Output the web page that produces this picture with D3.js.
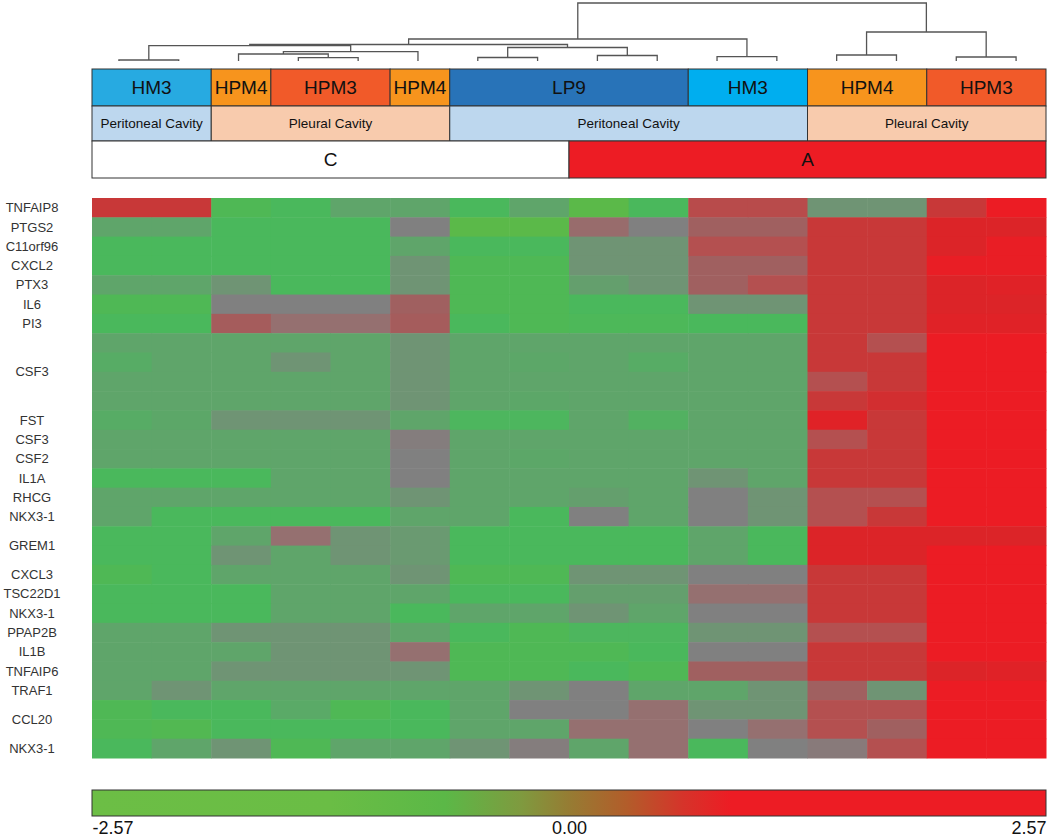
<!DOCTYPE html>
<html>
<head>
<meta charset="utf-8">
<script src="https://cdn.jsdelivr.net/npm/d3@7"></script>
<style>
  body { margin: 0; background: #fff; }
  svg { display: block; font-family: "Liberation Sans", Arial, sans-serif; }
</style>
</head>
<body>
<svg id="chart"></svg>
<script>
// Column annotations (one entry per sample column)
const cellLines = ["HM3","HM3","HPM4","HPM3","HPM3","HPM4","LP9","LP9","LP9","LP9","HM3","HM3","HPM4","HPM4","HPM3","HPM3"];
const cavities = ["Peritoneal Cavity","Peritoneal Cavity","Pleural Cavity","Pleural Cavity","Pleural Cavity","Pleural Cavity",
  "Peritoneal Cavity","Peritoneal Cavity","Peritoneal Cavity","Peritoneal Cavity","Peritoneal Cavity","Peritoneal Cavity",
  "Pleural Cavity","Pleural Cavity","Pleural Cavity","Pleural Cavity"];
const groups = ["C","C","C","C","C","C","C","C","A","A","A","A","A","A","A","A"];

// Row (probe) labels, consecutive duplicates share one label
const genes = ["TNFAIP8","PTGS2","C11orf96","CXCL2","PTX3","IL6","PI3","CSF3","CSF3","CSF3","CSF3","FST","CSF3","CSF2",
  "IL1A","RHCG","NKX3-1","GREM1","GREM1","CXCL3","TSC22D1","NKX3-1","PPAP2B","IL1B","TNFAIP6","TRAF1","CCL20","CCL20","NKX3-1"];

// Expression values (rows = probes, columns = samples)
const values = [
  [1.8, 1.8, -2.2, -2.0, -1.2, -1.2, -2.0, -1.2, -2.5, -2.0, 1.4, 1.4, -0.6, -0.6, 1.8, 2.57],
  [-1.2, -1.2, -2.0, -2.0, -2.0, 0, -2.5, -2.5, 0.6, 0, 0.9, 0.9, 1.8, 1.8, 2.2, 2.2],
  [-2.0, -2.0, -2.0, -2.0, -2.0, -1.2, -2.0, -2.0, -0.6, -0.6, 1.3, 1.3, 1.8, 1.8, 2.2, 2.5],
  [-2.0, -2.0, -2.0, -2.0, -2.0, -0.6, -2.2, -2.2, -0.6, -0.6, 0.9, 0.9, 1.8, 1.8, 2.5, 2.5],
  [-1.2, -1.2, -0.6, -2.0, -2.0, -0.6, -2.2, -2.2, -1.0, -0.6, 0.9, 1.3, 1.8, 1.8, 2.2, 2.3],
  [-2.2, -2.2, 0, 0, 0, 0.9, -2.2, -2.2, -2.0, -2.0, -0.6, -0.6, 1.8, 1.8, 2.2, 2.2],
  [-2.0, -2.0, 1.0, 0.5, 0.5, 1.0, -2.0, -2.2, -2.1, -2.1, -2.0, -2.0, 1.8, 1.8, 2.3, 2.3],
  [-1.2, -1.2, -1.2, -1.2, -1.2, -0.6, -1.2, -1.2, -1.2, -1.2, -1.2, -1.2, 1.8, 1.3, 2.57, 2.57],
  [-1.5, -1.2, -1.2, -0.6, -1.2, -0.6, -1.2, -1.3, -1.2, -1.5, -1.2, -1.2, 1.8, 1.8, 2.57, 2.57],
  [-1.2, -1.2, -1.2, -1.2, -1.2, -0.6, -1.2, -1.2, -1.2, -1.2, -1.2, -1.2, 1.3, 1.8, 2.57, 2.57],
  [-1.2, -1.2, -1.2, -1.2, -1.2, -0.6, -1.2, -1.3, -1.2, -1.2, -1.2, -1.2, 1.8, 2.0, 2.57, 2.57],
  [-1.5, -1.3, -0.6, -0.6, -0.6, -1.2, -1.9, -1.9, -1.2, -1.7, -1.2, -1.2, 2.3, 1.8, 2.57, 2.57],
  [-1.2, -1.2, -1.2, -1.2, -1.2, 0.1, -1.2, -1.2, -1.2, -1.2, -1.2, -1.2, 1.3, 1.8, 2.57, 2.57],
  [-1.2, -1.2, -1.2, -1.2, -1.2, 0, -1.2, -1.3, -1.2, -1.2, -1.2, -1.2, 1.8, 1.8, 2.57, 2.57],
  [-2.0, -2.0, -2.0, -1.2, -1.2, 0, -1.2, -1.2, -1.2, -1.2, -0.6, -1.2, 1.8, 1.8, 2.57, 2.57],
  [-1.2, -1.2, -1.2, -1.2, -1.2, -0.6, -1.2, -1.2, -1.0, -1.2, 0, -0.6, 1.3, 1.3, 2.57, 2.57],
  [-1.2, -2.0, -2.0, -2.0, -2.0, -1.2, -1.2, -2.0, 0, -1.2, 0, -0.6, 1.3, 1.8, 2.57, 2.57],
  [-2.0, -2.0, -1.2, 0.5, -0.6, -0.8, -2.0, -2.0, -2.0, -2.0, -1.2, -2.0, 2.2, 2.2, 2.2, 2.2],
  [-2.0, -2.0, -0.6, -1.2, -0.6, -0.8, -2.0, -2.0, -2.0, -2.0, -1.2, -2.0, 2.2, 2.2, 2.57, 2.57],
  [-2.2, -2.0, -1.2, -1.2, -1.2, -0.6, -2.2, -2.2, -0.6, -0.6, 0, 0, 1.8, 1.8, 2.57, 2.57],
  [-2.0, -2.0, -2.0, -1.2, -1.2, -1.2, -2.0, -2.0, -1.0, -1.0, 0.5, 0.5, 1.8, 1.8, 2.57, 2.57],
  [-2.0, -2.0, -2.0, -1.2, -1.2, -2.0, -1.2, -1.2, -0.6, -1.2, 0, 0, 1.8, 1.8, 2.57, 2.57],
  [-1.2, -1.2, -0.6, -0.6, -0.6, -1.2, -2.0, -2.2, -1.9, -1.9, -0.6, -0.6, 1.3, 1.3, 2.57, 2.57],
  [-1.2, -1.2, -1.2, -0.6, -0.6, 0.5, -2.2, -2.2, -2.2, -2.0, 0, 0, 1.8, 1.8, 2.57, 2.57],
  [-1.2, -1.2, -0.6, -0.6, -0.6, -0.6, -2.2, -2.2, -2.0, -2.2, 0.9, 0.9, 1.8, 1.8, 2.2, 2.3],
  [-1.2, -0.6, -1.2, -1.2, -1.2, -1.2, -1.2, -0.6, 0, -1.2, -1.2, -0.6, 0.9, -0.6, 2.57, 2.57],
  [-2.2, -2.0, -2.0, -1.4, -2.2, -2.0, -1.2, 0, 0, 0.5, -0.6, -0.6, 1.3, 1.3, 2.57, 2.57],
  [-2.2, -2.3, -2.0, -2.0, -2.0, -2.0, -1.2, -1.2, 0.5, 0.5, 0, 0.5, 1.3, 0.9, 2.57, 2.57],
  [-2.0, -1.2, -0.6, -2.2, -1.2, -1.2, -0.6, 0.1, -1.2, 0.5, -2.0, 0, 0.2, 1.3, 2.57, 2.57]
];

// Column dendrogram: leaves are column indices, h = merge height
const dendrogram = {h: 58, children: [
  {h: 22, children: [
    {h: 16.5, children: [
      {h: 15.3, children: [
        {h: 1, children: [0, 1]},
        {h: 9.3, children: [{h: 7, children: [2, {h: 3.3, children: [3, 4]}]}, 5]}
      ]},
      {h: 13.5, children: [{h: 3.5, children: [6, 7]}, {h: 5.5, children: [8, 9]}]}
    ]},
    {h: 4.3, children: [10, 11]}
  ]},
  {h: 29, children: [{h: 6, children: [12, 13]}, {h: 4, children: [14, 15]}]}
]};

// Colour scale
const colorDomain = [-2.57, -2.3, -2.0, -1.2, -0.6, 0, 0.5, 0.9, 1.3, 1.8, 2.2, 2.57];
const colorRange = ["#5eba46", "#52b852", "#4ab85c", "#5fa56a", "#6f9474", "#808080",
  "#957070", "#a06060", "#b45050", "#c83838", "#dc2428", "#ec1c24"];
const legendStops = [[0, "#6cbe45"], [0.25, "#6abd45"], [0.37, "#5bb847"], [0.45, "#7f9a3f"], [0.5, "#967c33"],
  [0.56, "#b25d2a"], [0.62, "#d6332a"], [0.67, "#ed1c24"], [1, "#ed1c24"]];
const legendTicks = [-2.57, 0, 2.57];

const headerColors = {
  "HM3": "#27aae1", "HPM4": "#f7941d", "HPM3": "#f15a29", "LP9": "#2873b8",
  "Peritoneal Cavity": "#bdd7ee", "Pleural Cavity": "#f8cbad", "C": "#ffffff", "A": "#ed1c24"
};

const width = 1050, height = 840;
const marginLeft = 92, marginRight = 1046, heatTop = 198, heatBottom = 758;

const svg = d3.select("#chart").attr("width", width).attr("height", height);

const x = d3.scaleBand().domain(d3.range(cellLines.length)).range([marginLeft, marginRight]);
const y = d3.scaleBand().domain(d3.range(genes.length)).range([heatTop, heatBottom]);
const color = d3.scaleLinear().domain(colorDomain).range(colorRange).clamp(true);

// Heatmap cells
const cells = values.flatMap((row, r) => row.map((v, c) => ({r, c, v})));
svg.append("g")
  .selectAll("rect")
  .data(cells)
  .join("rect")
  .attr("x", d => x(d.c))
  .attr("y", d => y(d.r))
  .attr("width", x.bandwidth() + 0.5)
  .attr("height", y.bandwidth() + 0.5)
  .attr("fill", d => color(d.v));

// group consecutive equal entries into runs
function runs(arr) {
  const out = [];
  arr.forEach((v, i) => {
    const last = out[out.length - 1];
    if (last && last.key === v) last.end = i;
    else out.push({key: v, start: i, end: i});
  });
  return out;
}

// Row labels
svg.append("g")
  .attr("font-size", 13)
  .attr("fill", "#333")
  .attr("text-anchor", "middle")
  .selectAll("text")
  .data(runs(genes))
  .join("text")
  .attr("x", 32)
  .attr("y", d => (y(d.start) + y(d.end) + y.bandwidth()) / 2)
  .attr("dy", "0.35em")
  .text(d => d.key);

// Annotation bands
const bands = [
  {data: cellLines, y0: 69, y1: 106, size: 19},
  {data: cavities, y0: 106, y1: 141, size: 13.5},
  {data: groups, y0: 141, y1: 178, size: 19}
];
bands.forEach(b => {
  const g = svg.append("g");
  const rr = runs(b.data);
  g.selectAll("rect")
    .data(rr)
    .join("rect")
    .attr("x", d => x(d.start))
    .attr("y", b.y0)
    .attr("width", d => x(d.end) + x.bandwidth() - x(d.start))
    .attr("height", b.y1 - b.y0)
    .attr("fill", d => (d.key === "HM3" && d.start > 5) ? "#00aeef" : headerColors[d.key])
    .attr("stroke", "#333")
    .attr("stroke-width", 1);
  g.selectAll("text")
    .data(rr)
    .join("text")
    .attr("x", d => (x(d.start) + x(d.end) + x.bandwidth()) / 2)
    .attr("y", (b.y0 + b.y1) / 2)
    .attr("dy", "0.36em")
    .attr("text-anchor", "middle")
    .attr("font-size", b.size)
    .attr("fill", "#111")
    .text(d => d.key);
});

// Dendrogram
const xd = d3.scaleBand().domain(d3.range(cellLines.length)).range([89, 1046]);
const yd = d3.scaleLinear().domain([0, dendrogram.h]).range([61, 3]);
const root = d3.hierarchy(dendrogram, d => d.children
  ? d.children.map(c => typeof c === "number" ? {leaf: c} : c) : null);
root.eachAfter(n => {
  if (n.children) n.x = d3.mean(n.children, c => c.x);
  else n.x = xd(n.data.leaf) + xd.bandwidth() / 2;
  n.y = yd(n.data.h || 0);
});
svg.append("g")
  .attr("fill", "none")
  .attr("stroke", "#555")
  .attr("stroke-width", 1.3)
  .selectAll("path")
  .data(root.descendants().filter(n => n.children))
  .join("path")
  .attr("d", n => {
    const [a, b] = n.children;
    return `M${a.x},${a.y}V${n.y}H${b.x}V${b.y}`;
  });

// Legend
const defs = svg.append("defs");
const grad = defs.append("linearGradient").attr("id", "legend-grad");
grad.selectAll("stop")
  .data(legendStops)
  .join("stop")
  .attr("offset", d => d[0])
  .attr("stop-color", d => d[1]);

svg.append("rect")
  .attr("x", marginLeft)
  .attr("y", 790)
  .attr("width", marginRight - marginLeft)
  .attr("height", 26)
  .attr("fill", "url(#legend-grad)")
  .attr("stroke", "#333")
  .attr("stroke-width", 1);

const lx = d3.scaleLinear().domain([-2.57, 2.57]).range([marginLeft, marginRight]);
svg.append("g")
  .attr("transform", "translate(0,817)")
  .call(d3.axisBottom(lx).tickValues(legendTicks).tickFormat(d => d.toFixed(2)).tickSize(0))
  .call(g => g.select(".domain").remove())
  .call(g => g.selectAll("text")
    .attr("font-size", 18)
    .attr("font-family", "'Liberation Sans', Arial, sans-serif")
    .attr("fill", "#111")
    .attr("dy", "0.8em")
    .attr("text-anchor", (d, i) => i === 0 ? "start" : i === legendTicks.length - 1 ? "end" : "middle"));
</script>
</body>
</html>
